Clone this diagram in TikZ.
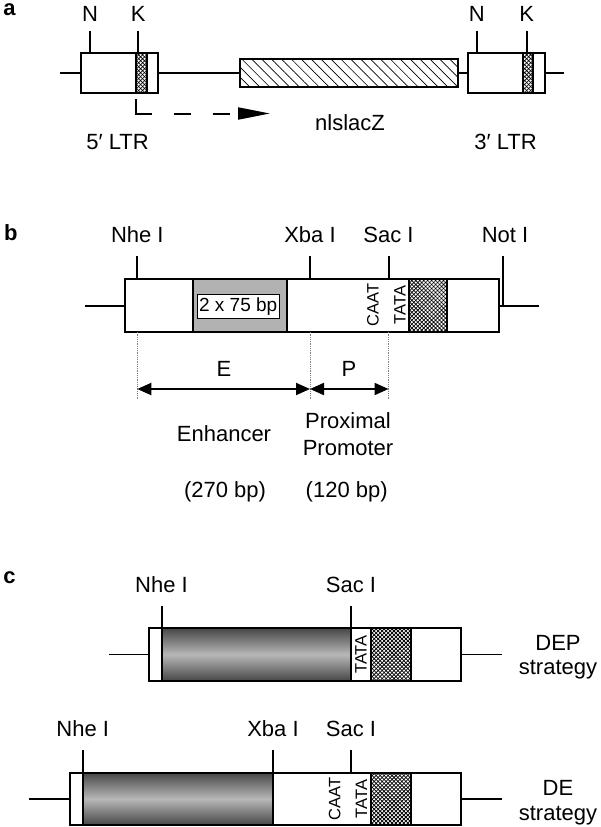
\documentclass[tikz,border=0pt]{standalone}
\usepackage{fontspec}
\setmainfont{Liberation Sans}
\usetikzlibrary{arrows.meta, patterns.meta, positioning}

\begin{document}
\begin{tikzpicture}[
    x=1pt, y=-1pt,
    font=\fontsize{22}{24}\selectfont,
    box/.style={draw, line width=2pt, fill=white},
    site/.style={line width=2pt},
    wire/.style={line width=1.6pt},
    lbl/.style={anchor=base, inner sep=0pt},
    seq/.style={rotate=90, inner sep=0pt, font=\fontsize{16.5}{17}\selectfont},
    panel/.style={anchor=base, inner sep=0pt, font=\fontsize{22}{24}\selectfont\bfseries},
    xhatch/.style={draw, line width=2pt, pattern={Lines[angle=45,distance=2.8pt,line width=0.75pt]},
        postaction={pattern={Lines[angle=-45,distance=2.8pt,line width=0.75pt]}}},
    enh/.style={draw, line width=2pt, top color=black!72, bottom color=black!72, middle color=black!28},
    dim/.style={line width=2pt, {Triangle[length=14pt,width=12pt]}-{Triangle[length=14pt,width=12pt]}},
    guide/.style={densely dotted, gray, line width=0.8pt},
]
\useasboundingbox (0,0) rectangle (600,827);

% --- a: provirus with two LTRs ---
\node[panel] (pa) at (9.6,16) {a};
\draw[wire] (60,72.7) -- (81,72.7);
\draw[wire] (157.7,72.7) -- (240,72.7);
\draw[wire] (458,72.7) -- (468.3,72.7);
\draw[wire] (545,72.7) -- (564,72.7);
\draw[box] (81,52.7) rectangle (157.7,92.7);
\draw[box] (468.3,52.7) rectangle (545,92.7);
\draw[xhatch] (136,52.7) rectangle (146.7,92.7);
\draw[xhatch] (523.3,52.7) rectangle (533.3,92.7);
\draw[line width=2pt, pattern={Lines[angle=-45,distance=7pt,line width=0.7pt]}]
    (240,59.3) rectangle (458,87.3);
\foreach \x/\t [count=\i] in {90/N, 138.3/K, 476.7/N, 526.7/K} {
    \node[lbl] (a\i) at (\x,21) {\t};
    \draw[site] (\x,30.7) -- (\x,52.7);
}
% transcription start
\coordinate (tss) at (136,99);
\coordinate (tsend) at (270,113.5);
\draw[line width=2pt, dash pattern=on 30pt off 22pt on 17.5pt off 21.5pt on 17.5pt off 40pt,
    -{Triangle[length=32pt,width=12pt]}] (tss) |- (tsend);
\node[lbl] (ltr5) at (117.5,149) {5′ LTR};
\node[lbl] (lacz) at (350,130.7) {nlslacZ};
\node[lbl] (ltr3) at (505.6,149) {3′ LTR};

% --- b: LTR map ---
\node[panel] (pb) at (10.8,240.7) {b};
\draw[wire] (85.4,305.7) -- (125,305.7);
\draw[wire] (498.8,305.7) -- (538.5,305.7);
\draw[box] (125,279) rectangle (498.8,331.7);
\draw[line width=2pt, fill=black!30] (193,279) rectangle (286.5,331.7);
\node[draw, line width=1pt, fill=white, inner sep=0pt, minimum width=82pt, minimum height=24.3pt,
    font=\fontsize{19}{20}\selectfont] (rep) at (238.2,306.2) {2 x 75 bp};
\draw[xhatch] (408.5,279) rectangle (447,331.7);
\node[seq] (caat) at (373,305) {CAAT};
\node[seq] (tata) at (400,305) {TATA};
\foreach \x/\t [count=\i] in {137.3/Nhe I, 310/Xba I, 388.5/Sac I} {
    \node[lbl] (b\i) at (\x,242.5) {\t};
    \draw[site] (\x,256) -- (\x,279);
    \draw[guide] (\x,331.7) -- (\x,400);
}
\node[lbl] (b4) at (505,242.5) {Not I};
\draw[site] (503,256) -- (503,305.7);

\coordinate (eL) at (137.3,389);
\coordinate (eR) at (310,389);
\coordinate (pR) at (388.5,389);
\draw[dim] (eL) -- (eR);
\draw[dim] (eR) -- (pR);
\node[lbl] (E) at (224,376.7) {E};
\node[lbl] (P) at (349,376.7) {P};
\node[lbl] (enhtxt) at (224,441.7) {Enhancer};
\node[lbl] (proxtxt) at (348,428.3) {Proximal};
\node[lbl] (promtxt) at (348,455) {Promoter};
\node[lbl] (enhbp) at (225,497) {(270 bp)};
\node[lbl] (probp) at (346.7,497) {(120 bp)};

% --- c: DEP strategy ---
\node[panel] (pc) at (9.6,583) {c};
\draw[wire] (108.8,654.5) -- (149.2,654.5);
\draw[wire] (460.8,654.5) -- (502,654.5);
\draw[box] (149.2,628.3) rectangle (460.8,680.7);
\draw[enh] (161.5,628.3) rectangle (351,680.7);
\draw[xhatch] (371,628.3) rectangle (410.8,680.7);
\node[seq] (tata1) at (361,654.5) {TATA};
\foreach \x/\t [count=\i] in {161.5/Nhe I, 351/Sac I} {
    \node[lbl] (c\i) at (\x,592.5) {\t};
    \draw[site] (\x,606) -- (\x,628.3);
}
\node[lbl] (dep) at (558,650) {DEP};
\node[lbl] (dep2) at (558,674) {strategy};

% --- c: DE strategy ---
\draw[wire] (28.8,798.8) -- (70,798.8);
\draw[wire] (460.8,798.8) -- (502,798.8);
\draw[box] (70,772.7) rectangle (460.8,825);
\draw[enh] (82.7,772.7) rectangle (273,825);
\draw[xhatch] (371,772.7) rectangle (410.8,825);
\node[seq] (caat2) at (334.6,798.8) {CAAT};
\node[seq] (tata2) at (361.5,798.8) {TATA};
\foreach \x/\t [count=\i] in {82.7/Nhe I, 273/Xba I, 351/Sac I} {
    \node[lbl] (d\i) at (\x,736) {\t};
    \draw[site] (\x,750) -- (\x,772.7);
}
\node[lbl] (de) at (558,795) {DE};
\node[lbl] (de2) at (558,820) {strategy};

\end{tikzpicture}
\end{document}
